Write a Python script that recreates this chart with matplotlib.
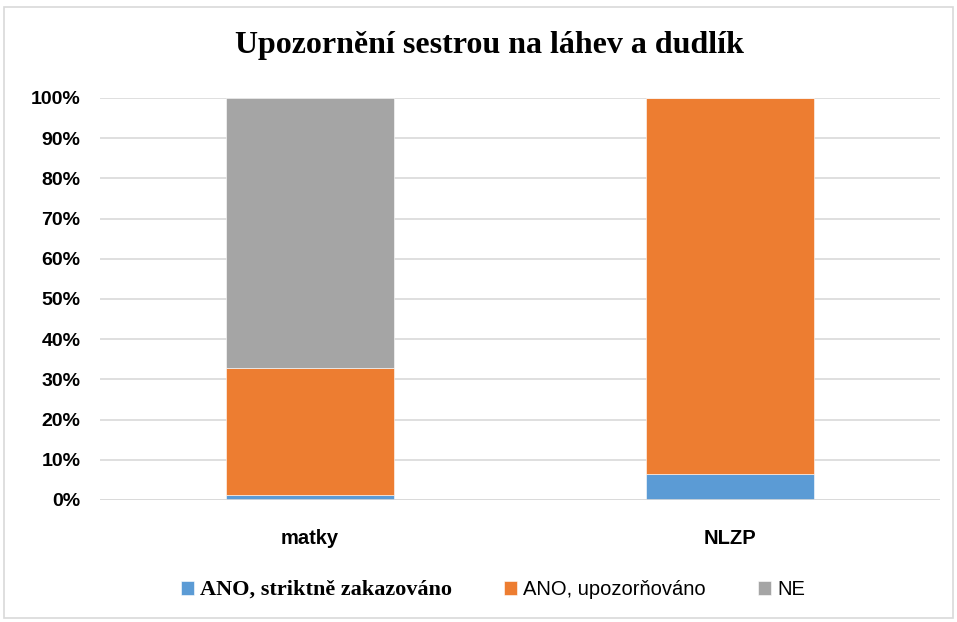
import matplotlib.pyplot as plt
from matplotlib.patches import Rectangle

categories = ['matky', 'NLZP']
ano_zakaz = [1.3, 6.4]
ano_upoz = [31.6, 93.6]
ne = [67.1, 0.0]
labels = ['ANO, striktně zakazováno', 'ANO, upozorňováno', 'NE']
colors = ['#5B9BD5', '#ED7D31', '#A5A5A5']

fig = plt.figure(figsize=(9.57, 6.22), dpi=100)
ax = fig.add_axes([100 / 957, 1 - 500 / 622, 840 / 957, 402 / 622])

x = range(len(categories))
bottom = [0.0] * len(categories)
handles = []
for vals, lab, col in zip([ano_zakaz, ano_upoz, ne], labels, colors):
    b = ax.bar(x, vals, width=0.4, bottom=bottom, color=col, label=lab,
               edgecolor='white', linewidth=0.4, zorder=3)
    handles.append(b)
    bottom = [bt + v for bt, v in zip(bottom, vals)]

ax.set_xlim(-0.5, 1.5)
ax.set_ylim(0, 100)
ax.set_yticks(range(0, 101, 10))
ax.set_yticklabels([f'{v}%' for v in range(0, 101, 10)],
                   fontsize=14, fontweight='bold', family='Liberation Sans')
ax.set_xticks(list(x))
ax.set_xticklabels(categories, fontsize=14.5, fontweight='bold', family='Liberation Sans')
ax.tick_params(axis='both', length=0)
ax.tick_params(axis='y', pad=14)
ax.tick_params(axis='x', pad=21)
ax.grid(axis='y', color='#D9D9D9', linewidth=1.2, zorder=0)
for s in ax.spines.values():
    s.set_visible(False)
ax.axhline(0, color='#D9D9D9', linewidth=1.2, zorder=4)

fig.text(490 / 957, 1 - 46 / 622, 'Upozornění sestrou na láhev a dudlík', ha='center', va='center',
         fontsize=23, fontweight='bold', family='Liberation Serif')

leg = fig.legend(handles=handles, labels=labels, loc='center', bbox_to_anchor=(493 / 957, 1 - 590 / 622),
                 ncol=3, frameon=False, fontsize=14.5, handlelength=0.65, handleheight=0.65,
                 columnspacing=2.6, handletextpad=0.3)
texts = leg.get_texts()
texts[0].set_family('Liberation Serif')
texts[0].set_fontweight('bold')
texts[0].set_fontsize(16)
for t in texts[1:]:
    t.set_family('Liberation Sans')

fig.patches.append(Rectangle((4 / 957, 4 / 622), 949 / 957, 611 / 622, transform=fig.transFigure,
                             fill=False, edgecolor='#D9D9D9', linewidth=1.2))

fig.savefig('out.png', dpi=100)
